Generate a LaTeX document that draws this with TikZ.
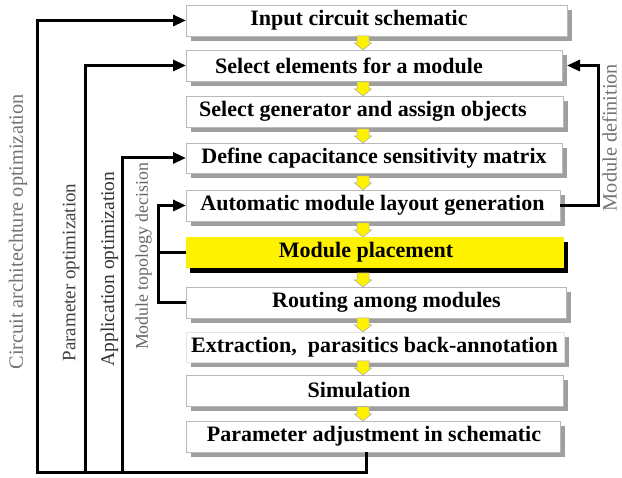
\documentclass[tikz,border=0pt]{standalone}
\usepackage{fontspec}
\setmainfont{Liberation Serif}
\usetikzlibrary{arrows.meta,shadows,calc}

\tikzset{
  stage/.style={draw=gray!55, line width=0.8pt, fill=white, inner sep=0pt, outer sep=0pt,
    drop shadow={shadow xshift=5pt, shadow yshift=-5pt, fill=gray!75, opacity=1}},
  faint/.style={stage, draw=gray!22},
  hot/.style={draw=none, fill=yellow, inner sep=0pt, outer sep=0pt,
    drop shadow={shadow xshift=4pt, shadow yshift=-5pt, fill=black, opacity=1}},
  caption/.style={font=\fontsize{22}{24}\selectfont\bfseries, inner sep=0pt},
  side/.style={rotate=90, inner sep=0pt},
  feedback/.style={line width=3pt, line join=miter, -{Triangle[length=13pt,width=11pt]}},
  plainline/.style={line width=3pt, line join=miter},
  yarrow/.pic={\draw[fill=yellow, draw=gray!70, line width=0.5pt]
     (-6,14) -- (6,14) -- (6,7) -- (8.5,7) -- (0,0) -- (-8.5,7) -- (-6,7) -- cycle;}
}

\begin{document}
\begin{tikzpicture}[x=1pt,y=1pt]
\useasboundingbox (0,0) rectangle (622,478);

% process stages
\node[stage, minimum width=381pt, minimum height=31pt] (b1) at (376.5,457.5) {};
\node[stage, minimum width=376pt, minimum height=31pt] (b2) at (374,412.5) {};
\node[stage, minimum width=377pt, minimum height=31pt] (b3) at (374.5,366.5) {};
\node[stage, minimum width=376pt, minimum height=30pt] (b4) at (374,320) {};
\node[stage, minimum width=374pt, minimum height=31pt] (b5) at (373,272.5) {};
\node[hot,   minimum width=378pt, minimum height=31pt] (b6) at (375,225.5) {};
\node[stage, minimum width=380pt, minimum height=31pt] (b7) at (376,175.5) {};
\node[faint, minimum width=378pt, minimum height=30pt] (b8) at (375,131) {};
\node[stage, minimum width=377pt, minimum height=31pt] (b9) at (374.5,87.5) {};
\node[stage, minimum width=374pt, minimum height=31pt] (b10) at (373,41.5) {};

% stage captions
\node[caption] (t1) at (359,457.5) {Input circuit schematic};
\node[caption] (t2) at (349,412.5) {Select elements for a module};
\node[caption] (t3) at (363,366.5) {Select generator and assign objects};
\node[caption] (t4) at (374,320) {Define capacitance sensitivity matrix};
\node[caption] (t5) at (372.5,272.5) {Automatic module layout generation};
\node[caption] (t6) at (366,225.5) {Module placement};
\node[caption] (t7) at (386.5,175.5) {Routing among modules};
\node[caption] (t8) at (374.5,131) {Extraction,\ \ parasitics back-annotation};
\node[caption] (t9) at (359,87.5) {Simulation};
\node[caption] (t10) at (374,41.5) {Parameter adjustment in schematic};

% flow arrows between stages
\coordinate (ax) at (363,0);
\foreach \n in {2,...,10} {
  \path (b\n.north -| ax) pic {yarrow};
}

% feedback loops on the left
\coordinate (c1) at (37,5);
\coordinate (c2) at (85,5);
\coordinate (c3) at (122,5);
\coordinate (k) at (158,0);
\draw[feedback] ([xshift=-7pt]b10.south) |- (c1) |- (b1.west);
\draw[feedback] (c2) |- (b2.west);
\draw[feedback] (c3) |- (b4.west);
\draw[feedback] (b7.west) -- (b7.west -| k) -- (b5.west -| k) -- (b5.west);
\draw[plainline] (b6.west) -- (b6.west -| k);

% module definition loop on the right
\coordinate (r) at (598,0);
\draw[feedback] (b5.east) -- (b5.east -| r) -- (b2.east -| r) -- ([xshift=5pt]b2.east);

% loop labels
\node[side, text=black!55, font=\fontsize{20.3}{22}\selectfont] (l1) at (18,246) {Circuit architechture optimization};
\node[side, text=black!75, font=\fontsize{19}{21}\selectfont] (l2) at (71,205.5) {Parameter optimization};
\node[side, text=black!80, font=\fontsize{19.4}{21}\selectfont] (l3) at (109.5,209) {Application optimization};
\node[side, text=black!60, font=\fontsize{17.8}{20}\selectfont] (l4) at (143.5,221.5) {Module topology decision};
\node[side, text=black!55, font=\fontsize{20.3}{22}\selectfont] (l5) at (609.5,340.5) {Module definition};
\end{tikzpicture}
\end{document}
